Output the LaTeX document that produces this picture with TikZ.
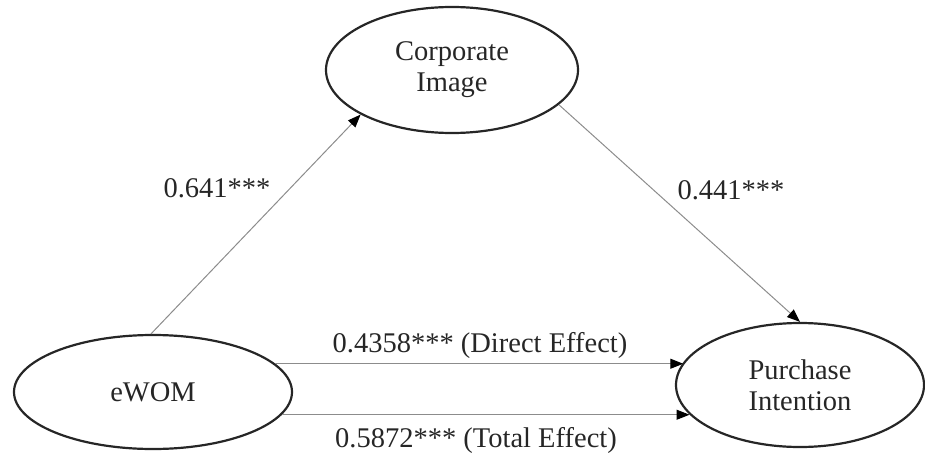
\documentclass[tikz,border=0pt]{standalone}
\usepackage{fontspec}
\setmainfont{Liberation Serif}
\usetikzlibrary{shapes.geometric,arrows.meta}
\begin{document}
\begin{tikzpicture}[x=1pt,y=-1pt,
  latent/.style={ellipse,draw=black!85,line width=2.2pt,inner sep=0pt,
    align=center,text=black!85,font=\fontsize{28.5}{31}\selectfont},
  arr/.style={draw=black!45,line width=1pt,
    -{Triangle[length=13pt,width=10pt,fill=black,color=black]}},
  lbl/.style={text=black!85,font=\fontsize{28.5}{31}\selectfont,inner sep=0pt}]
\useasboundingbox (0,0) rectangle (925,457);
\node[latent,minimum width=252pt,minimum height=126pt] (ci) at (452,70) {Corporate\\Image};
\node[latent,minimum width=278pt,minimum height=114pt] (e) at (153,392) {eWOM};
\node[latent,minimum width=248pt,minimum height=124pt] (pi) at (800,385) {Purchase\\Intention};
\draw[arr] (e.92) -- (ci.206);
\draw[arr] (ci.342) -- (pi.north);
\draw[arr] (e.13) -- (e.13 -| pi.169);
\draw[arr] (e.-10) -- (e.-10 -| pi.195);
\node[lbl] (l1) at (217,188) {0.641***};
\node[lbl] (l2) at (731,190) {0.441***};
\node[lbl] (l3) at (480,345) {0.4358*** (Direct Effect)};
\node[lbl] (l4) at (476,440) {0.5872*** (Total Effect)};
\end{tikzpicture}
\end{document}
